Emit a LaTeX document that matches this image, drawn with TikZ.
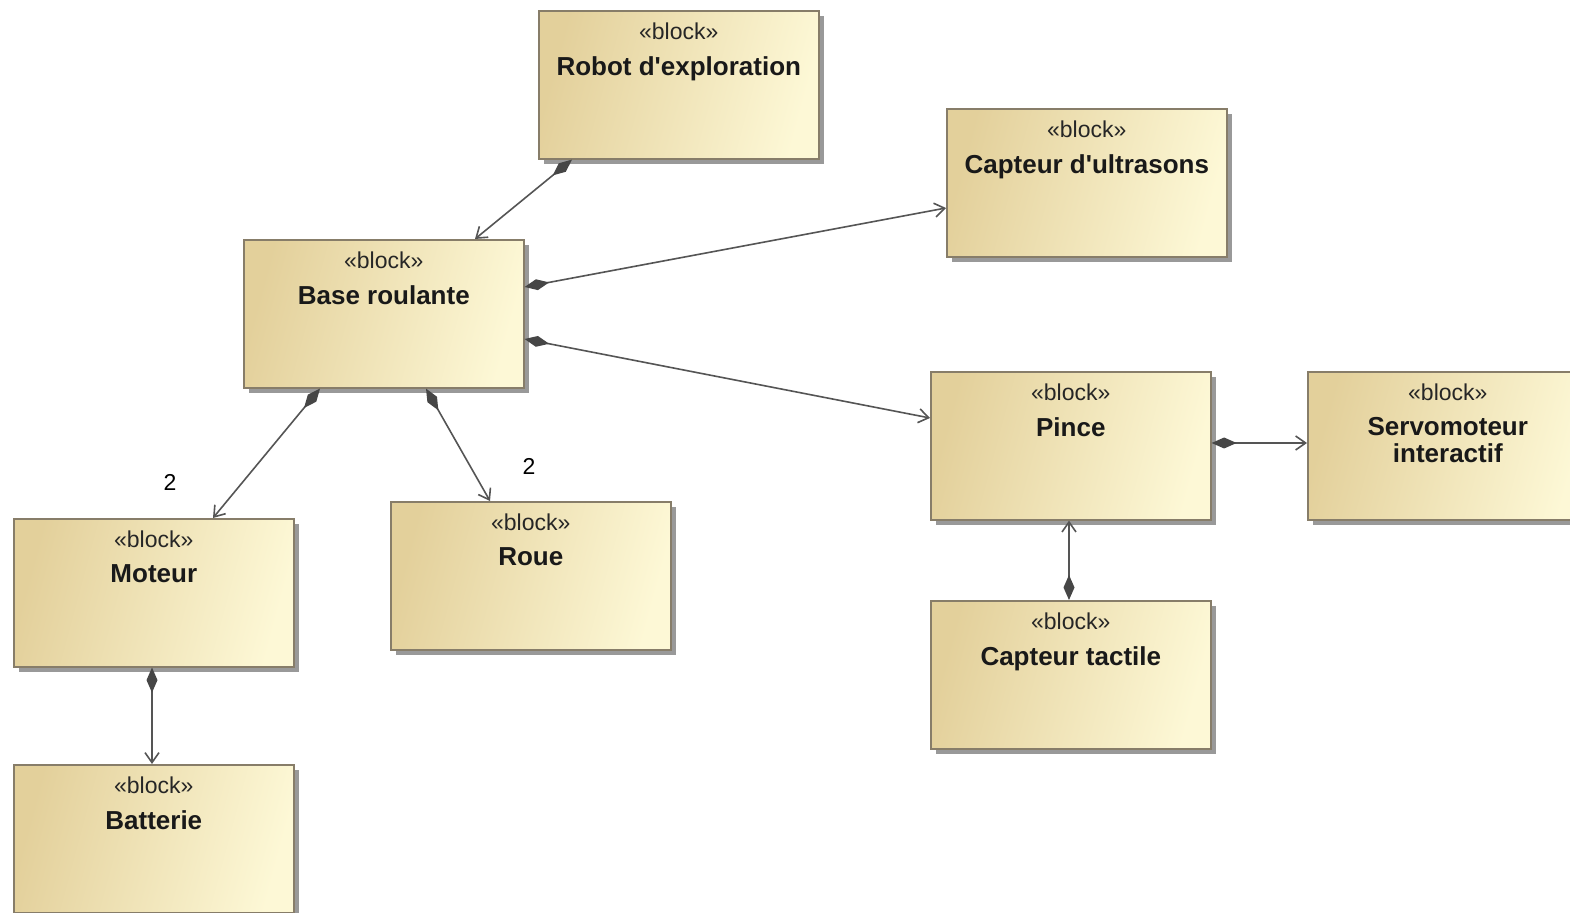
\documentclass[tikz,border=0pt]{standalone}
\usepackage{fontspec}
\setmainfont{Liberation Sans}[Ligatures=TeXOff]
\usetikzlibrary{arrows.meta,calc,shadows}
\definecolor{tanL}{RGB}{227,208,155}
\definecolor{tanR}{RGB}{253,248,214}
\definecolor{edgec}{RGB}{135,125,105}
\definecolor{linec}{RGB}{85,85,85}
\definecolor{diac}{RGB}{70,70,70}
\tikzset{
  blockbox/.style={draw=edgec, line width=0.8pt, left color=tanL, right color=tanR, shading angle=75,
    minimum width=140pt, minimum height=74pt, inner sep=0pt, anchor=north west,
    drop shadow={shadow xshift=2.5pt, shadow yshift=-2.5pt, fill=black, opacity=0.4}},
  stereo/.style={font=\fontsize{11.5}{13}\selectfont, inner sep=0pt, text=black!85},
  btitle/.style={font=\bfseries\fontsize{13}{13.5}\selectfont, inner sep=0pt, anchor=north, align=center, text=black!90},
  mult/.style={font=\fontsize{11.5}{13}\selectfont, inner sep=0pt},
  comp/.style={draw=linec, line width=0.8pt, {Diamond[length=12.5pt,width=5.5pt,fill=diac,color=diac]}-{Straight Barb[length=5pt,width=7pt]}}
}
\newcommand\blk[4]{%
  \node[blockbox] (#1) at (#2,#3) {};
  \node[stereo] (#1-s) at ($(#1.north)+(0,21)$) {«block»};
  \node[btitle] (#1-t) at ($(#1.north)+(0,46)$) {#4};
}
\begin{document}
\begin{tikzpicture}[x=0.5pt,y=-0.5pt]
\clip (0,0) rectangle (1570,913);
\fill[white] (0,0) rectangle (1570,913);
\blk{robot}{538}{10}{Robot d'exploration}
\blk{ultra}{946}{108}{Capteur d'ultrasons}
\blk{base}{243}{239}{Base roulante}
\blk{pince}{930}{371}{Pince}
\blk{servo}{1307}{371}{Servomoteur\\interactif}
\blk{moteur}{13}{518}{Moteur}
\blk{roue}{390}{501}{Roue}
\blk{tactile}{930}{600}{Capteur tactile}
\blk{batterie}{13}{764}{Batterie}

\draw[comp] ($(robot.south west)+(34,0)$) -- ($(base.north west)+(232,0)$);
\draw[comp] ($(base.north east)+(0,48)$) -- ($(ultra.north west)+(0,100)$);
\draw[comp] ($(base.north east)+(0,100)$) -- ($(pince.north west)+(0,47)$);
\draw[comp] ($(pince.north east)+(0,72)$) -- ($(servo.north west)+(0,72)$);
\draw[comp] ($(base.south west)+(77,0)$) -- ($(moteur.north west)+(200,0)$);
\draw[comp] ($(base.south west)+(183,0)$) -- ($(roue.north west)+(100,0)$);
\draw[comp] ($(moteur.south west)+(139,0)$) -- ($(batterie.north west)+(139,0)$);
\draw[comp] ($(tactile.north west)+(139,0)$) -- ($(pince.south west)+(139,0)$);

\node[mult] (m1) at (170,482) {2};
\node[mult] (m2) at (529,466) {2};
\end{tikzpicture}
\end{document}
